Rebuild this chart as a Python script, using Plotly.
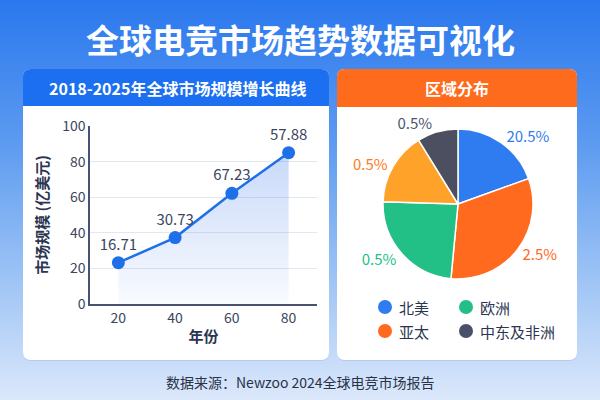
import base64
import plotly.graph_objects as go

# ---------------- data ----------------
years = [20, 40, 60, 80]
market_size = [23.2, 37.3, 62.2, 85.0]
market_labels = ["16.71", "30.73", "67.23", "57.88"]

regions = ["北美", "亚太", "欧洲", "其他", "中东及非洲"]
region_share = [19.5, 32.0, 24.0, 15.7, 8.8]
region_text = ["20.5%", "2.5%", "0.5%", "0.5%", "0.5%"]
region_colors = ["#2f7cf0", "#ff6a1f", "#22bf87", "#ffa22a", "#4b4f5f"]
region_text_colors = ["#2f7cf0", "#ff6a1f", "#22bf87", "#ff7a22", "#4a5573"]

legend_names = ["北美", "欧洲", "亚太", "中东及非洲"]
legend_colors = ["#2f7cf0", "#22bf87", "#ff6a1f", "#4a5068"]

W, H = 600, 400
FONT = "Noto Sans CJK SC"


def px(x):
    return x / W


def py(y):
    return 1 - y / H


def rrect(x0, y0, x1, y1, r, top=True, bottom=True):
    rt = r if top else 0
    rb = r if bottom else 0
    pts = []
    pts.append(f"M{px(x0 + rt)},{py(y0)}")
    pts.append(f"L{px(x1 - rt)},{py(y0)}")
    if rt:
        pts.append(f"Q{px(x1)},{py(y0)} {px(x1)},{py(y0 + rt)}")
    pts.append(f"L{px(x1)},{py(y1 - rb)}")
    if rb:
        pts.append(f"Q{px(x1)},{py(y1)} {px(x1 - rb)},{py(y1)}")
    pts.append(f"L{px(x0 + rb)},{py(y1)}")
    if rb:
        pts.append(f"Q{px(x0)},{py(y1)} {px(x0)},{py(y1 - rb)}")
    pts.append(f"L{px(x0)},{py(y0 + rt)}")
    if rt:
        pts.append(f"Q{px(x0)},{py(y0)} {px(x0 + rt)},{py(y0)}")
    pts.append("Z")
    return " ".join(pts)


# background gradient as svg image
svg = f"""<svg xmlns='http://www.w3.org/2000/svg' width='{W}' height='{H}' preserveAspectRatio='none'>
<defs><linearGradient id='g' x1='0' y1='0' x2='0' y2='1'>
<stop offset='0' stop-color='#2a78ee'/>
<stop offset='0.35' stop-color='#5b9af0'/>
<stop offset='0.75' stop-color='#a8caf6'/>
<stop offset='1' stop-color='#dce8fb'/>
</linearGradient></defs>
<rect width='{W}' height='{H}' fill='url(#g)'/></svg>"""
bg_uri = "data:image/svg+xml;base64," + base64.b64encode(svg.encode()).decode()

fig = go.Figure()

# line chart
fig.add_trace(go.Scatter(
    x=years, y=market_size, mode="lines+markers+text",
    text=market_labels, textposition="top center",
    textfont=dict(size=15, color="#3a4660", family=FONT),
    line=dict(color="#1f6fe8", width=2.5),
    marker=dict(size=13, color="#1f6fe8"),
    fill="tozeroy",
    fillgradient=dict(type="vertical", start=0, stop=85,
                      colorscale=[[0, "rgba(60,120,235,0.03)"], [1, "rgba(60,120,235,0.28)"]]),
    showlegend=False, cliponaxis=False, hoverinfo="skip",
))

# pie
cx, cy = 458, 204
half = 75
fig.add_trace(go.Pie(
    labels=regions, values=region_share, text=region_text,
    textinfo="text", textposition="outside",
    textfont=dict(size=15, color=region_text_colors, family=FONT),
    marker=dict(colors=region_colors, line=dict(color="white", width=1.5)),
    sort=False, direction="clockwise", rotation=0,
    domain=dict(x=[px(cx - half), px(cx + half)], y=[py(cy + half), py(cy - half)]),
    showlegend=False, hoverinfo="skip", automargin=False,
))

shapes = []
# cards
for (x0, x1) in [(23, 329), (337, 577)]:
    shapes.append(dict(type="path", path=rrect(x0, 70, x1, 361, 8), xref="paper", yref="paper",
                       fillcolor="rgba(30,60,120,0.10)", line=dict(width=0), layer="below"))
    shapes.append(dict(type="path", path=rrect(x0, 69, x1, 360, 8), xref="paper", yref="paper",
                       fillcolor="white", line=dict(width=0), layer="below"))
shapes.append(dict(type="path", path=rrect(23, 69, 329, 106, 8, bottom=False), xref="paper", yref="paper",
                   fillcolor="#1b6ff0", line=dict(width=0), layer="below"))
shapes.append(dict(type="path", path=rrect(337, 69, 577, 107, 8, bottom=False), xref="paper", yref="paper",
                   fillcolor="#ff6b1c", line=dict(width=0), layer="below"))


def ann(text, x, y, size, color, xanchor="center"):
    return dict(text=text, x=px(x), y=py(y), xref="paper", yref="paper", xanchor=xanchor,
                yanchor="middle", showarrow=False, font=dict(size=size, color=color, family=FONT))


annotations = [
    ann("<b>全球电竞市场趋势数据可视化</b>", 300, 39, 33, "white"),
    ann("<b>2018-2025年全球市场规模增长曲线</b>", 177, 88, 16, "white"),
    ann("<b>区域分布</b>", 457, 88, 16, "white"),
    ann("数据来源：Newzoo 2024全球电竞市场报告", 300, 382, 14, "#2a3248"),
]

# custom legend
leg_pos = [(385, 307), (466, 307), (385, 331), (466, 331)]
for name, col, (lx, ly) in zip(legend_names, legend_colors, leg_pos):
    r = 7
    shapes.append(dict(type="circle", xref="paper", yref="paper",
                       x0=px(lx - r), x1=px(lx + r), y0=py(ly + r), y1=py(ly - r),
                       fillcolor=col, line=dict(width=0)))
    annotations.append(ann(name, lx + 12, ly, 15, "#2b3550", xanchor="left"))

fig.update_layout(
    width=W, height=H, margin=dict(l=0, r=0, t=0, b=0, autoexpand=False),
    paper_bgcolor="#5c9cf0", plot_bgcolor="rgba(0,0,0,0)",
    font=dict(family=FONT, color="#3a4660"),
    images=[dict(source=bg_uri, xref="paper", yref="paper", x=0, y=1, sizex=1, sizey=1,
                 xanchor="left", yanchor="top", sizing="stretch", layer="below")],
    shapes=shapes, annotations=annotations,
    xaxis=dict(domain=[px(90), px(317)], range=[10, 90], tickvals=years, automargin=False,
               showgrid=False, zeroline=False, showline=True, linecolor="#4a5270", linewidth=1.5,
               ticks="", tickfont=dict(size=14, color="#3a4660"),
               title=dict(text="<b>年份</b>", font=dict(size=15, color="#2b3550"), standoff=6)),
    yaxis=dict(domain=[py(304), py(126)], range=[0, 100], tickvals=[0, 20, 40, 60, 80, 100],
               automargin=False,
               showgrid=True, gridcolor="#e3e7ef", gridwidth=1, zeroline=False,
               showline=True, linecolor="#4a5270", linewidth=1.5,
               ticks="", tickfont=dict(size=14, color="#3a4660"),
               title=dict(text="<b>市场规模 (亿美元)</b>", font=dict(size=15, color="#2b3550"), standoff=10)),
)

fig.write_html("out.html")
